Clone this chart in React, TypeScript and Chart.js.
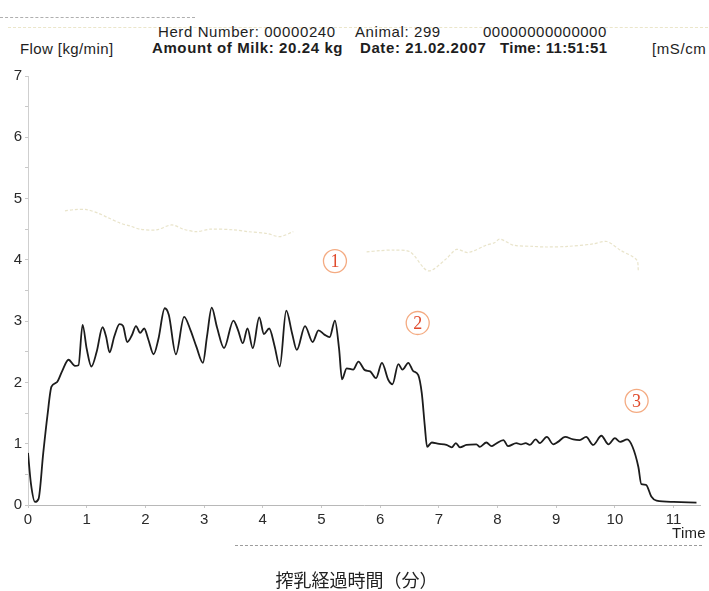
import React, { useEffect, useRef } from "react";
import { Chart, registerables } from "chart.js";

Chart.register(...registerables);

// ---- data ----
const flowTime = [
  0.0, 0.05, 0.12, 0.18, 0.26, 0.33, 0.4, 0.49, 0.58, 0.69, 0.8, 0.86, 0.93, 1.0, 1.08, 1.17, 1.27, 1.33, 1.39,
  1.47, 1.56, 1.62, 1.69, 1.77, 1.84, 1.91, 1.98, 2.05, 2.14, 2.22, 2.33, 2.4, 2.52, 2.66, 2.77, 2.87, 2.98,
  3.05, 3.13, 3.22, 3.34, 3.5, 3.58, 3.66, 3.74, 3.83, 3.94, 4.02, 4.11, 4.2, 4.29, 4.4, 4.5, 4.58, 4.72, 4.85,
  4.95, 5.05, 5.14, 5.23, 5.3, 5.35, 5.43, 5.54, 5.63, 5.74, 5.83, 5.93, 6.03, 6.14, 6.21, 6.31, 6.38, 6.48,
  6.56, 6.65, 6.71, 6.76, 6.8, 6.88, 6.98, 7.13, 7.22, 7.29, 7.36, 7.47, 7.64, 7.7, 7.81, 7.9, 7.96, 8.1, 8.18,
  8.32, 8.4, 8.48, 8.55, 8.65, 8.72, 8.84, 8.95, 9.03, 9.15, 9.29, 9.4, 9.51, 9.63, 9.77, 9.89, 10.0, 10.09,
  10.21, 10.3, 10.4, 10.45, 10.53, 10.62, 10.71, 11.0, 11.39,
];
const flowValue = [
  0.85, 0.35, 0.05, 0.1, 0.85, 1.45, 1.93, 2.0, 2.18, 2.37, 2.27, 2.28, 2.94, 2.55, 2.26, 2.5, 2.9, 2.75, 2.49,
  2.75, 2.95, 2.92, 2.66, 2.77, 2.92, 2.81, 2.88, 2.7, 2.46, 2.7, 3.21, 3.1, 2.46, 3.07, 2.85, 2.58, 2.32,
  2.75, 3.22, 2.9, 2.56, 3.01, 2.85, 2.64, 2.88, 2.56, 3.06, 2.79, 2.88, 2.6, 2.26, 3.17, 2.8, 2.53, 2.92, 2.66,
  2.85, 2.78, 2.74, 3.01, 2.55, 2.05, 2.23, 2.21, 2.34, 2.2, 2.18, 2.07, 2.32, 2.04, 1.97, 2.3, 2.21, 2.32,
  2.19, 2.12, 1.82, 1.3, 0.95, 1.02, 1.0, 0.98, 0.94, 1.01, 0.94, 0.98, 0.99, 0.95, 1.02, 0.96, 0.99, 1.06, 0.96,
  1.01, 0.99, 1.01, 0.98, 1.07, 1.01, 1.11, 0.99, 1.03, 1.11, 1.07, 1.06, 1.11, 0.98, 1.13, 0.99, 1.09, 1.03,
  1.07, 0.95, 0.62, 0.34, 0.33, 0.14, 0.07, 0.05, 0.04,
];

const condTime = [
  0.63, 0.8, 1.0, 1.2, 1.34, 1.57, 1.75, 1.91, 2.19, 2.45, 2.65, 2.87, 3.1, 3.5, 3.75, 4.07, 4.29, 4.52,
  5.2, 5.77, 6.0, 6.22, 6.51, 6.82, 7.13, 7.3, 7.5, 7.81, 7.95, 8.04, 8.27, 8.6, 8.84, 9.2, 9.63, 9.86, 10.09,
  10.37, 10.4,
];
const condValue = [
  4.8, 4.82, 4.82, 4.76, 4.7, 4.6, 4.55, 4.5, 4.49, 4.57, 4.5, 4.46, 4.5, 4.49, 4.46, 4.43, 4.38, 4.46,
  null, 4.13, 4.15, 4.16, 4.13, 3.82, 4.02, 4.17, 4.12, 4.24, 4.28, 4.34, 4.24, 4.22, 4.21, 4.22, 4.26, 4.3, 4.16,
  4.0, 3.82,
];

const noteLabels = ["1", "2", "3"];
const noteTime = [5.23, 6.64, 10.37];
const noteValue = [3.98, 2.97, 1.7];

const xTickValues = [0, 1, 2, 3, 4, 5, 6, 7, 8, 9, 10, 11];
const xMin = 0;
const xMax = 11.45;
const yMin = 0;
const yMax = 7;

const headerLine1 = ["Herd Number: 00000240", "Animal: 299", "00000000000000"];
const headerLine2 = ["Amount of Milk: 20.24 kg", "Date: 21.02.2007", "Time: 11:51:51"];
const yTitle = "Flow [kg/min]";
const rightTitle = "[mS/cm";
const xTitle = "Time";
const caption = "搾乳経過時間（分）";

const FONT = "'Liberation Sans', Arial, sans-serif";

const notePlugin = {
  id: "notes",
  afterDatasetsDraw(chart: any) {
    const { ctx, scales } = chart;
    ctx.save();
    noteLabels.forEach((lab, i) => {
      const x = scales.x.getPixelForValue(noteTime[i]);
      const y = scales.y.getPixelForValue(noteValue[i]);
      ctx.beginPath();
      ctx.arc(x, y, 11.5, 0, Math.PI * 2);
      ctx.strokeStyle = "#f4ab82";
      ctx.lineWidth = 1.3;
      ctx.stroke();
      ctx.fillStyle = "#e04a2c";
      ctx.font = "18px 'Liberation Serif', serif";
      ctx.textAlign = "center";
      ctx.textBaseline = "middle";
      ctx.fillText(lab, x, y + 1);
    });
    ctx.restore();
  },
};

function FlowChart() {
  const ref = useRef<HTMLCanvasElement | null>(null);
  useEffect(() => {
    if (!ref.current) return;
    const chart = new Chart(ref.current, {
      type: "line",
      data: {
        datasets: [
          {
            label: "Conductivity",
            data: condTime.map((t, i) => ({ x: t, y: condValue[i] as any })),
            borderColor: "rgba(212,202,150,0.5)",
            borderWidth: 1.2,
            borderDash: [3, 2],
            pointRadius: 0,
            spanGaps: false,
            tension: 0.3,
          },
          {
            label: "Flow",
            data: flowTime.map((t, i) => ({ x: t, y: flowValue[i] })),
            borderColor: "#1c1c1c",
            borderWidth: 1.8,
            pointRadius: 0,
            cubicInterpolationMode: "monotone",
          },
        ],
      },
      options: {
        animation: false,
        responsive: false,
        maintainAspectRatio: false,
        layout: { padding: { left: 0, top: 76, right: 9, bottom: 0 } },
        plugins: { legend: { display: false }, tooltip: { enabled: false } },
        scales: {
          x: {
            type: "linear",
            min: xMin,
            max: xMax,
            afterFit: (s: any) => {
              s.height = 86;
            },
            afterBuildTicks: (s: any) => {
              s.ticks = xTickValues.map((v) => ({ value: v }));
            },
            ticks: {
              autoSkip: false,
              padding: 3,
              color: "#2a2a2a",
              font: { family: FONT, size: 15 },
              maxRotation: 0,
            },
            grid: { drawOnChartArea: false, tickLength: 3, color: "#c8c8c8" },
            border: { color: "#b8b8b8", dash: [2, 3], width: 1 },
          },
          y: {
            min: yMin,
            max: yMax,
            afterFit: (s: any) => {
              s.width = 28;
            },
            ticks: {
              stepSize: 0.5,
              padding: 3,
              color: "#2a2a2a",
              font: { family: FONT, size: 15 },
              callback: (v: any) => (Number.isInteger(v) ? String(v) : ""),
            },
            grid: { drawOnChartArea: false, tickLength: 3, color: "#c8c8c8" },
            border: { color: "#cfcfcf", dash: [2, 3], width: 1 },
          },
        },
      },
      plugins: [notePlugin],
    } as any);
    return () => chart.destroy();
  }, []);
  return <canvas ref={ref} width={709} height={591} style={{ position: "absolute", left: 0, top: 0 }} />;
}

const txt = (left: number, top: number, s: string, extra: any = {}) => (
  <div
    style={{
      position: "absolute",
      left,
      top,
      fontFamily: FONT,
      fontSize: 15,
      letterSpacing: 0.6,
      color: "#1e1e1e",
      whiteSpace: "pre",
      lineHeight: "16px",
      ...extra,
    }}
  >
    {s}
  </div>
);

export default function App() {
  return (
    <div
      style={{
        position: "fixed",
        left: 0,
        top: 0,
        width: 709,
        height: 591,
        background: "#fff",
        overflow: "hidden",
      }}
    >
      <div style={{ position: "absolute", left: 0, top: 17, width: 195, borderTop: "1px dashed rgba(110,110,110,0.55)" }} />
      <div style={{ position: "absolute", left: 8, top: 27, width: 700, borderTop: "1px dashed rgba(215,205,150,0.5)" }} />
      {txt(158, 24, headerLine1[0])}
      {txt(355, 24, headerLine1[1])}
      {txt(483, 24, headerLine1[2], { letterSpacing: 0.5 })}
      {txt(20, 41, yTitle, { letterSpacing: 0.4 })}
      {txt(152, 40, headerLine2[0], { fontWeight: "bold" })}
      {txt(360, 40, headerLine2[1], { fontWeight: "bold" })}
      {txt(500, 40, headerLine2[2], { fontWeight: "bold", letterSpacing: 0.3 })}
      {txt(652, 41, rightTitle)}
      <FlowChart />
      {txt(672, 525, xTitle, { letterSpacing: 0.3 })}
      <div style={{ position: "absolute", left: 235, top: 545, width: 467, borderTop: "1px dashed rgba(90,90,90,0.6)" }} />
      <div
        style={{
          position: "absolute",
          left: 0,
          width: 709,
          top: 566,
          textAlign: "center",
          fontFamily: "'Noto Sans CJK JP', sans-serif",
          fontSize: 18,
          color: "#222",
          paddingLeft: 2,
        }}
      >
        {caption}
      </div>
    </div>
  );
}
